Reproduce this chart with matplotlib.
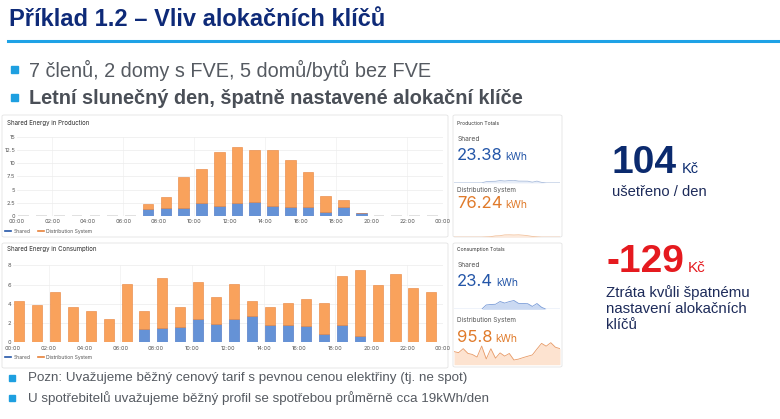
import numpy as np
import matplotlib
matplotlib.use('Agg')
import matplotlib.pyplot as plt
from matplotlib.patches import FancyBboxPatch, Rectangle
from matplotlib.lines import Line2D

W, H = 780, 419

# hourly data (kWh)
hours = np.arange(24)
prod_shared = [0, 0, 0, 0, 0, 0, 0, 1.3, 1.5, 1.6, 2.4, 1.9, 2.4, 2.6, 1.8, 1.75, 1.7, 0.75, 1.75, 0.5, 0, 0, 0, 0]
prod_total = [0, 0, 0, 0, 0, 0, 0, 2.3, 3.5, 7.3, 8.9, 12.1, 13.0, 12.4, 12.4, 10.5, 8.3, 3.7, 3.0, 0.5, 0, 0, 0, 0]
cons_shared = [0, 0, 0, 0, 0, 0, 0, 1.35, 1.5, 1.56, 2.43, 1.94, 2.4, 2.74, 1.84, 1.8, 1.74, 0.9, 1.8, 0.63, 0, 0, 0, 0]
cons_total = [4.24, 3.9, 5.2, 3.68, 3.3, 2.47, 6.04, 3.23, 6.67, 3.68, 6.25, 4.72, 6.04, 4.27, 3.65, 4.1, 4.48, 4.06,
              6.88, 7.53, 6.0, 7.12, 5.66, 5.2]
prod_dist = np.array(prod_total) - np.array(prod_shared)
cons_dist = np.array(cons_total) - np.array(cons_shared)

prod_totals = ('23.38', '76.24')
cons_totals = ('23.4', '95.8')
hour_labels = ['%02d:00' % (h % 24) for h in range(0, 25, 2)]
prod_yticks = [0, 2.5, 5, 7.5, 10, 12.5, 15]
prod_ylabels = ['0', '2.5', '5', '7.5', '10', '12.5', '15']
cons_yticks = [0, 2, 4, 6, 8]

saved_kc = '104'
lost_kc = '-129'

NAVY = '#0e2a78'
CYAN = '#1e9fe0'
GRAY = '#555a61'
BLUE = '#6592d6'
BLUE_E = '#3f6cbf'
ORANGE = '#f9a25c'
ORANGE_E = '#e8823a'
BIGBLUE = '#2456a8'
BIGORANGE = '#e07a2a'
SANS = ['Liberation Sans', 'DejaVu Sans']
UI = ['Inter', 'DejaVu Sans']

fig = plt.figure(figsize=(W / 100, H / 100), dpi=100)
fig.patch.set_facecolor('white')


def rect(x, y, w, h):
    return [x / W, 1 - (y + h) / H, w / W, h / H]


def fx(x):
    return x / W


def fy(y):
    return 1 - y / H


def panel(x, y, w, h):
    fig.add_artist(FancyBboxPatch((fx(x), fy(y + h)), w / W, h / H, boxstyle='round,pad=0,rounding_size=0.003',
                                  transform=fig.transFigure, facecolor='white', edgecolor='#e3e3e3', lw=0.6, zorder=0))


# ---- slide header ----
fig.text(fx(9), fy(20), 'Příklad 1.2 – Vliv alokačních klíčů', family=SANS, fontsize=17, weight='bold',
         color=NAVY, va='center')
fig.add_artist(Line2D([fx(8), 1], [fy(41.5), fy(41.5)], transform=fig.transFigure, color='#1ea2e6', lw=2.2))

for yy, txt, wt, col in [(70, '7 členů, 2 domy s FVE, 5 domů/bytů bez FVE', 'normal', GRAY),
                         (98, 'Letní slunečný den, špatně nastavené alokační klíče', 'bold', '#4a4f57')]:
    fig.add_artist(Rectangle((fx(11), fy(yy + 3.5)), 7 / W, 7 / H, transform=fig.transFigure, color=CYAN))
    fig.text(fx(29), fy(yy), txt, family=SANS, fontsize=14.3, weight=wt, color=col, va='center')

# ---- panels ----
panel(2, 115, 446, 122)
panel(2, 243, 446, 125)
panel(453, 115, 109, 122)
panel(453, 243, 109, 124)


def bar_chart(ax, shared, dist, total, off, width, yticks, ylabels, ymax):
    x = hours + off
    zero = np.array(total) == 0
    ax.bar(x[zero], 0, width, color='#dcdcdc', edgecolor='#dcdcdc', lw=1.2, zorder=3)
    ax.bar(x[~zero], np.array(shared)[~zero], width, color=BLUE, edgecolor=BLUE_E, lw=0.4, zorder=3)
    ax.bar(x[~zero], dist[~zero], width, bottom=np.array(shared)[~zero], color=ORANGE, edgecolor=ORANGE_E,
           lw=0.4, zorder=3)
    ax.set_xlim(0, 24)
    ax.set_ylim(0, ymax)
    ax.set_xticks(range(0, 25, 2))
    ax.set_xticklabels(hour_labels)
    ax.set_yticks(yticks)
    ax.set_yticklabels(ylabels)
    ax.tick_params(length=0, labelsize=4.1, colors='#555555', pad=2.5)
    ax.tick_params(axis='y', pad=1)
    for lab in ax.get_xticklabels() + ax.get_yticklabels():
        lab.set_family(UI)
    ax.grid(axis='y', color='#ececec', lw=0.5)
    for xv in range(2, 24, 4):
        ax.axvline(xv, color='#f0f0f0', lw=0.5, zorder=0)
    for s in ax.spines.values():
        s.set_visible(False)
    ax.set_facecolor('none')


ax1 = fig.add_axes(rect(16.7, 136.7, 426.3, 79.3))
bar_chart(ax1, prod_shared, prod_dist, prod_total, 0.4, 0.6, prod_yticks, prod_ylabels, 15)
ax2 = fig.add_axes(rect(12.7, 265.3, 430.3, 77))
bar_chart(ax2, cons_shared, cons_dist, cons_total, 0.35, 0.56, cons_yticks, [str(v) for v in cons_yticks], 8)

fig.text(fx(7), fy(123.3), 'Shared Energy in Production', family=UI, fontsize=4.4, color='#2b2b2b', va='center')
fig.text(fx(7), fy(249.3), 'Shared Energy in Consumption', family=UI, fontsize=4.4, color='#2b2b2b', va='center')

handles = [Line2D([], [], color=BIGBLUE, lw=1.2), Line2D([], [], color=ORANGE_E, lw=1.2)]
for yy in (231, 357.3):
    leg = fig.legend(handles, ['Shared', 'Distribution System'], loc='center left',
                     bbox_to_anchor=(fx(5), fy(yy)), ncol=2, frameon=False, fontsize=3.6, handlelength=1.2,
                     handletextpad=0.6, columnspacing=1.3, borderpad=0, borderaxespad=0)
    for t in leg.get_texts():
        t.set_family(UI)
        t.set_color('#555555')

fig.canvas.draw()


# number followed by a smaller unit on the same baseline
def value_with_unit(x, y, val, unit, color, size, usize, weight='normal', family=UI, gap=3):
    t = fig.text(fx(x), fy(y), val, family=family, fontsize=size, color=color, va='baseline', weight=weight)
    bb = t.get_window_extent(renderer=fig.canvas.get_renderer())
    fig.text((bb.x1 + gap) / W, fy(y), unit, family=family, fontsize=usize, color=color, va='baseline',
             weight=weight if family == UI else 'normal')


# ---- totals panels ----
fig.text(fx(457), fy(123.3), 'Production Totals', family=UI, fontsize=3.6, color='#333333', va='center')
fig.text(fx(458), fy(139), 'Shared', family=UI, fontsize=4.8, color='#555555', va='center')
value_with_unit(457, 160, prod_totals[0], 'kWh', BIGBLUE, 12, 7.5)
fig.text(fx(457), fy(189.5), 'Distribution System', family=UI, fontsize=4.6, color='#555555', va='center')
value_with_unit(457, 207.5, prod_totals[1], 'kWh', BIGORANGE, 12, 7.5)

fig.text(fx(457), fy(249.3), 'Consumption Totals', family=UI, fontsize=3.6, color='#333333', va='center')
fig.text(fx(458), fy(265), 'Shared', family=UI, fontsize=4.8, color='#555555', va='center')
value_with_unit(457, 286, cons_totals[0], 'kWh', BIGBLUE, 12, 7.5)
fig.text(fx(457), fy(320), 'Distribution System', family=UI, fontsize=4.6, color='#555555', va='center')
value_with_unit(457, 341.7, cons_totals[1], 'kWh', BIGORANGE, 12, 7.5)


def spark(r, series, ymax, line, fill, base=None):
    ax = fig.add_axes(r)
    ax.fill_between(hours, series, 0, color=fill, lw=0)
    ax.plot(hours, series, color=line, lw=0.6)
    if base:
        ax.axhline(0, color=base, lw=0.5)
    ax.set_xlim(0, 23)
    ax.set_ylim(0, ymax)
    ax.axis('off')


spark(rect(454, 180.3, 106, 2.6), prod_shared, 2.6, '#a9bcdc', '#e6edf8', base='#d4d9e2')
spark(rect(454, 234.5, 106, 2.6), prod_dist, 12, '#f3c39e', '#fdeadc')
spark(rect(454, 300.3, 106, 9), cons_shared, 2.8, '#7a9cd8', '#cad9f2', base='#cfd6e2')
spark(rect(454, 342.3, 106, 22.4), cons_dist, 7.25, '#e89a66', '#fde3d0')

# ---- savings / loss ----
value_with_unit(612, 173.3, saved_kc, 'Kč', '#0b2a6e', 28, 10.5, weight='bold', family=SANS, gap=5)
fig.text(fx(612.5), fy(196), 'ušetřeno / den', family=SANS, fontsize=10.6, color='#1d2b5a', va='baseline')
value_with_unit(606, 271.7, lost_kc, 'Kč', '#e51a1f', 28, 11, weight='bold', family=SANS, gap=4)
for yy, txt in [(296.7, 'Ztráta kvůli špatnému'), (313.3, 'nastavení alokačních'), (329.3, 'klíčů')]:
    fig.text(fx(606), fy(yy), txt, family=SANS, fontsize=10.8, color='#1d2b5a', va='baseline')

# ---- footnotes ----
for yy, txt in [(378.3, 'Pozn: Uvažujeme běžný cenový tarif s pevnou cenou elektřiny (tj. ne spot)'),
                (398.3, 'U spotřebitelů uvažujeme běžný profil se spotřebou průměrně cca 19kWh/den')]:
    fig.add_artist(Rectangle((fx(9), fy(yy + 3)), 6 / W, 6 / H, transform=fig.transFigure, color=CYAN))
    fig.text(fx(28.3), fy(yy), txt, family=SANS, fontsize=9.65, color=GRAY, va='center')

fig.savefig('out.png', dpi=100, facecolor='white')
